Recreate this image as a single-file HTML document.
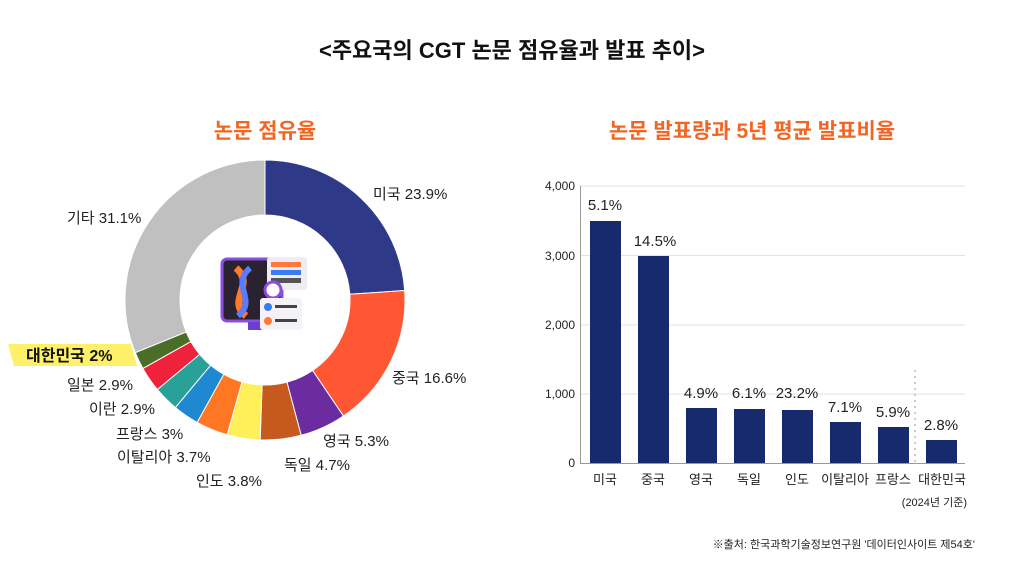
<!DOCTYPE html>
<html><head><meta charset="utf-8"><style>
body{margin:0;width:1024px;height:576px;background:#fff;overflow:hidden;font-family:"Liberation Sans","Noto Sans CJK KR",sans-serif}
</style></head><body>
<svg width="1024" height="576" viewBox="0 0 1024 576" xmlns="http://www.w3.org/2000/svg" font-family="Liberation Sans, Noto Sans CJK KR, sans-serif">
<text x="512" y="58" text-anchor="middle" font-size="22" font-weight="bold" fill="#111">&lt;주요국의 CGT 논문 점유율과 발표 추이&gt;</text>
<text x="265" y="138" text-anchor="middle" font-size="21" font-weight="bold" fill="#f26522">논문 점유율</text>
<text x="752" y="138" text-anchor="middle" font-size="21" font-weight="bold" fill="#f26522">논문 발표량과 5년 평균 발표비율</text>
<g id="donut"></g>
<!-- center icon -->
<g>
<rect x="222" y="259" width="60" height="62" rx="5" fill="#2a2230" stroke="#8a4fe0" stroke-width="3"/>
<path d="M236 268 C256 285,226 300,246 316" stroke="#ff7a2a" stroke-width="7" fill="none"/>
<path d="M250 268 C230 285,258 300,238 316" stroke="#5a7cff" stroke-width="6" fill="none"/>
<rect x="248" y="322" width="28" height="8" fill="#6b3fd0"/>
<rect x="267" y="257" width="40" height="33" rx="3" fill="#f0ecf4"/>
<rect x="271" y="262" width="30" height="5" fill="#ff7a3a"/><rect x="271" y="270" width="30" height="5" fill="#3a7cf0"/><rect x="271" y="278" width="30" height="5" fill="#555"/>
<circle cx="273" cy="290" r="8" fill="#fff" stroke="#8a4fe0" stroke-width="3"/>
<rect x="260" y="298" width="42" height="32" rx="3" fill="#f4f2f6"/>
<circle cx="268" cy="307" r="4" fill="#3a7cf0"/><circle cx="268" cy="321" r="4" fill="#ff7a3a"/>
<rect x="275" y="305" width="22" height="3" fill="#444"/><rect x="275" y="319" width="22" height="3" fill="#444"/>
</g>
<g font-size="15" fill="#222">
<text x="373" y="199">미국 23.9%</text>
<text x="392" y="383">중국 16.6%</text>
<text x="323" y="446">영국 5.3%</text>
<text x="284" y="470">독일 4.7%</text>
<text x="196" y="486">인도 3.8%</text>
<text x="117" y="462">이탈리아 3.7%</text>
<text x="116" y="439">프랑스 3%</text>
<text x="89" y="414">이란 2.9%</text>
<text x="67" y="390">일본 2.9%</text>
<text x="67" y="223">기타 31.1%</text>
</g>
<polygon points="8,344 131,344 137,366 14,366" fill="#fff06a"/>
<text x="26" y="361" font-size="16" font-weight="bold" fill="#111">대한민국 2%</text>
<!-- bar chart -->
<g stroke="#e2e2e2" stroke-width="1">
<line x1="580" y1="186" x2="965" y2="186"/><line x1="580" y1="255.5" x2="965" y2="255.5"/>
<line x1="580" y1="325" x2="965" y2="325"/><line x1="580" y1="394" x2="965" y2="394"/>
</g>
<line x1="580.5" y1="186" x2="580.5" y2="463" stroke="#999"/>
<line x1="580" y1="463.5" x2="965" y2="463.5" stroke="#999"/>
<line x1="915" y1="370" x2="915" y2="463" stroke="#999" stroke-dasharray="2,4"/>
<g font-size="12" fill="#222" text-anchor="end">
<text x="575" y="190">4,000</text><text x="575" y="260">3,000</text><text x="575" y="329">2,000</text><text x="575" y="398">1,000</text><text x="575" y="467">0</text>
</g>
<g fill="#172a6e">
<rect x="590" y="221" width="31" height="242"/>
<rect x="638" y="256" width="31" height="207"/>
<rect x="686" y="408" width="31" height="55"/>
<rect x="734" y="409" width="31" height="54"/>
<rect x="782" y="410" width="31" height="53"/>
<rect x="830" y="422" width="31" height="41"/>
<rect x="878" y="427" width="31" height="36"/>
<rect x="926" y="440" width="31" height="23"/>
</g>
<g font-size="15" fill="#222" text-anchor="middle">
<text x="605" y="210">5.1%</text><text x="655" y="246">14.5%</text><text x="701" y="398">4.9%</text>
<text x="749" y="398">6.1%</text><text x="797" y="398">23.2%</text><text x="845" y="412">7.1%</text>
<text x="893" y="417">5.9%</text><text x="941" y="430">2.8%</text>
</g>
<g font-size="13" fill="#222" text-anchor="middle">
<text x="605" y="484">미국</text><text x="653" y="484">중국</text><text x="701" y="484">영국</text><text x="749" y="484">독일</text>
<text x="797" y="484">인도</text><text x="845" y="484">이탈리아</text><text x="893" y="484">프랑스</text><text x="942" y="484">대한민국</text>
</g>
<text x="967" y="506" font-size="11" fill="#222" text-anchor="end">(2024년 기준)</text>
<text x="975" y="548" font-size="11" fill="#222" text-anchor="end">※출처: 한국과학기술정보연구원 '데이터인사이트 제54호'</text>
</svg>
<script>
(function(){
var d=[[23.9,"#2e3a87"],[16.6,"#ff5733"],[5.3,"#6a2c9e"],[4.7,"#c65a1e"],[3.8,"#fff05a"],[3.7,"#ff7722"],[3,"#1e88d0"],[2.9,"#2aa198"],[2.9,"#f0213a"],[2,"#4a6e28"],[31.1,"#c0c0c0"]];
var cx=265,cy=300,R=140,r=85,tot=99.9,a=0,s="";
function p(ang,rad){var t=ang/tot*2*Math.PI;return [cx+rad*Math.sin(t),cy-rad*Math.cos(t)];}
d.forEach(function(e){var b=a+e[0],l=e[0]/tot>0.5?1:0;var p1=p(a,R),p2=p(b,R),p3=p(b,r),p4=p(a,r);
s+='<path d="M'+p1+' A'+R+' '+R+' 0 '+l+' 1 '+p2+' L'+p3+' A'+r+' '+r+' 0 '+l+' 0 '+p4+' Z" fill="'+e[1]+'" stroke="#fff" stroke-width="1"/>';a=b;});
document.getElementById("donut").innerHTML=s;
})();
</script>
</body></html>
